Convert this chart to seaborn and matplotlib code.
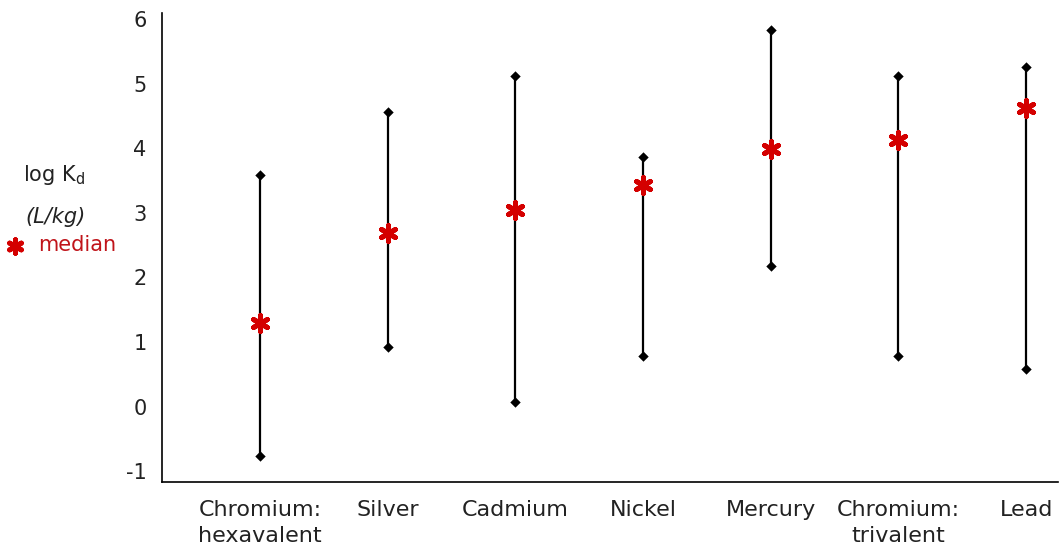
import numpy as np
import pandas as pd
import matplotlib
matplotlib.use("Agg")
import matplotlib.pyplot as plt
import seaborn as sns

# hodnoty
metals = ["Chromium:\nhexavalent", "Silver", "Cadmium", "Nickel",
          "Mercury", "Chromium:\ntrivalent", "Lead"]
kd_min = [-0.76, 0.93, 0.07, 0.78, 2.18, 0.78, 0.58]
kd_max = [3.59, 4.57, 5.12, 3.87, 5.83, 5.12, 5.27]
kd_median = [1.30, 2.69, 3.04, 3.43, 3.99, 4.13, 4.62]
y_ticks = [-1, 0, 1, 2, 3, 4, 5, 6]

sns.set_style("white")
plt.rcParams["font.family"] = ["DejaVu Sans"]
plt.rcParams["axes.unicode_minus"] = False

df = pd.DataFrame({"metal": metals, "low": kd_min, "high": kd_max, "median": kd_median})
pos = np.arange(len(df))

fig = plt.figure(figsize=(10.6, 5.53), dpi=100)
ax = fig.add_axes([162 / 1060, 1 - 482 / 553, (1058 - 162) / 1060, (482 - 13) / 553])

# rozsahy
ax.vlines(pos, df["low"], df["high"], color="black", lw=1.6, zorder=1)
ends = pd.concat([df[["metal", "low"]].rename(columns={"low": "val"}),
                  df[["metal", "high"]].rename(columns={"high": "val"})])
sns.scatterplot(data=ends, x="metal", y="val", marker="D", s=28, color="black",
                edgecolor="black", linewidth=0, ax=ax, zorder=2, legend=False)

# mediány
sns.scatterplot(data=df, x="metal", y="median", marker=(6, 2, 0), s=130,
                color="#d40000", edgecolor="#d40000", linewidth=3.6, ax=ax,
                zorder=3, label="median")

ax.set_xlim(-0.767, 6.25)
ax.set_ylim(-1.17, 6.1)
ax.set_yticks(y_ticks)
ax.set_xticks(pos)
ax.set_xticklabels(metals, fontsize=16, color="#222222", linespacing=1.38)
ax.tick_params(axis="y", labelsize=15, length=0, pad=11, labelcolor="#222222")
ax.tick_params(axis="x", length=0, pad=13)
ax.set_xlabel("")
ax.set_ylabel("")

for side in ["top", "right"]:
    ax.spines[side].set_visible(False)
for side in ["left", "bottom"]:
    ax.spines[side].set_color("black")
    ax.spines[side].set_linewidth(1.2)

# popisek osy vlevo
fig.text(23 / 1060, 1 - 175 / 553, r"log K$_\mathregular{d}$", fontsize=15,
         ha="left", va="center", color="#222222")
fig.text(25 / 1060, 1 - 217 / 553, "(L/kg)", fontsize=15, style="italic",
         ha="left", va="center", color="#222222")

leg = ax.legend(loc="center left", bbox_to_anchor=(5 / 1060, 1 - 245 / 553),
                bbox_transform=fig.transFigure, frameon=False, fontsize=15,
                handlelength=1.0, handletextpad=0.6, borderpad=0, borderaxespad=0,
                markerscale=0.85, labelcolor="#c0141a")

plt.savefig("out.png", dpi=100)
plt.close()
